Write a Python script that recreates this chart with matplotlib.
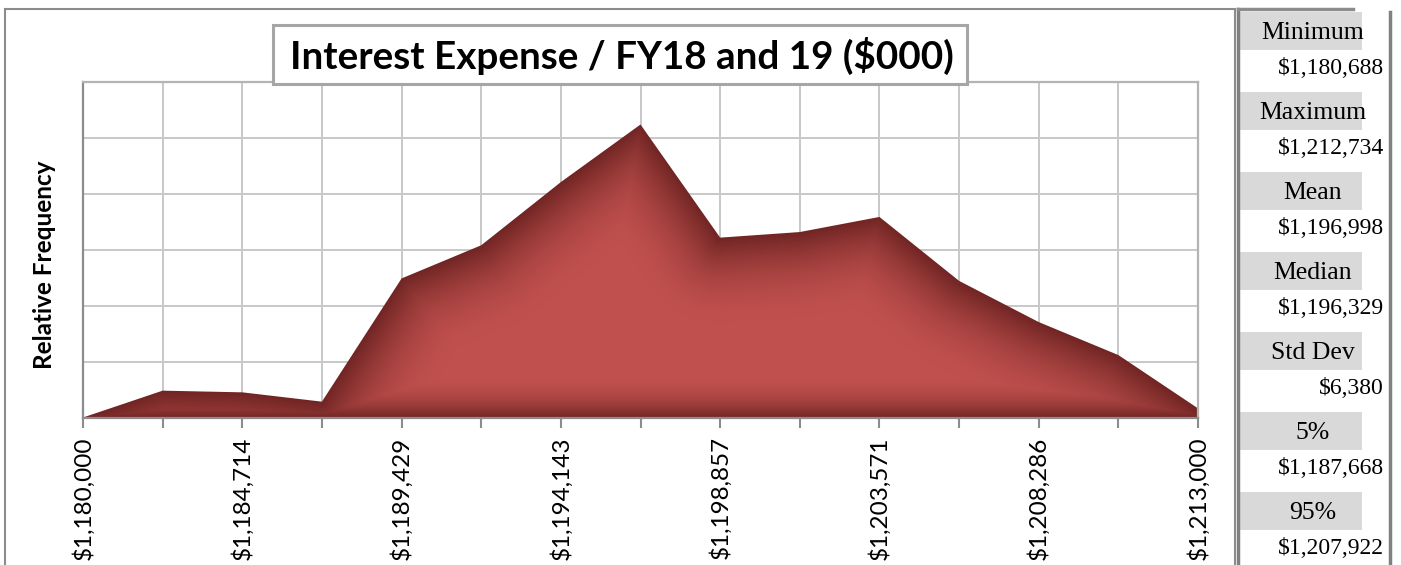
import numpy as np
import matplotlib
matplotlib.use("Agg")
import matplotlib.pyplot as plt
from matplotlib.patches import Rectangle

# ---------------- data ----------------
x_min, x_max = 1180000, 1213000
bin_points = np.linspace(x_min, x_max, 15)
rel_freq = [0.0, 0.0144, 0.0135, 0.0085, 0.0746, 0.0924, 0.1263, 0.1572,
            0.0965, 0.0995, 0.1076, 0.0733, 0.0512, 0.0335, 0.0049]
tick_labels = ["$1,180,000", "", "$1,184,714", "", "$1,189,429", "",
               "$1,194,143", "", "$1,198,857", "", "$1,203,571", "",
               "$1,208,286", "", "$1,213,000"]
stat_names = ["Minimum", "Maximum", "Mean", "Median", "Std Dev", "5%", "95%"]
stat_values = ["$1,180,688", "$1,212,734", "$1,196,998", "$1,196,329",
               "$6,380", "$1,187,668", "$1,207,922"]
title = "Interest Expense / FY18 and 19 ($000)"
y_label = "Relative Frequency"

# ---------------- figure ----------------
W, H = 1401, 565
fig = plt.figure(figsize=(W / 100, H / 100), dpi=100)
fig.patch.set_facecolor("white")


def fx(px):
    return px / W


def fy(py):
    return 1 - py / H


def frect(x0, y0, x1, y1, **kw):
    """Rectangle given in pixel coordinates (y down)."""
    r = Rectangle((fx(x0), fy(y1)), (x1 - x0) / W, (y1 - y0) / H,
                  transform=fig.transFigure, **kw)
    fig.add_artist(r)
    return r


# outer chart frame
frect(5, 9, 1235, 600, facecolor="white", edgecolor="#8c8c8c", lw=1.5, zorder=0)

# plot area
ax_l, ax_r, ax_t, ax_b = 83, 1198, 82, 417.5
ax = fig.add_axes([fx(ax_l), fy(ax_b), (ax_r - ax_l) / W, (ax_b - ax_t) / H])
ax.set_xlim(x_min, x_max)
y_top = 0.18
ax.set_ylim(0, y_top)
ax.set_xticks(bin_points)
ax.set_xticklabels(tick_labels, rotation=90, fontsize=17.5, family="Lato",
                   va="top", ha="center")
ax.set_yticks(np.arange(0, y_top + 1e-9, 0.03))
ax.set_yticklabels([])
ax.tick_params(axis="x", direction="inout", length=15, width=1.5,
               color="#8c8c8c", pad=6)
ax.tick_params(axis="y", length=0)
ax.grid(True, color="#c8c8c8", lw=1.4)
ax.set_axisbelow(True)
for name, sp in ax.spines.items():
    sp.set_color("#8c8c8c" if name in ("left", "bottom") else "#b4b4b4")
    sp.set_linewidth(1.6)

# area polygon (used as clip for the shaded fill)
area = ax.fill_between(bin_points, rel_freq, color="none", lw=0)
clip_path = area.get_paths()[0]

# shaded fill: darker towards the outline, brighter inside
nx, ny = int(ax_r - ax_l), int(ax_b - ax_t)
px_x = (np.arange(nx) + 0.5)
px_y = (np.arange(ny) + 0.5)
PX, PY = np.meshgrid(px_x, px_y)
sx = nx / (x_max - x_min)
sy = ny / y_top
vx = (bin_points - x_min) * sx
vy = np.asarray(rel_freq) * sy
d_top = np.full(PX.shape, np.inf)
for i in range(len(vx) - 1):
    ax0, ay0, bx0, by0 = vx[i], vy[i], vx[i + 1], vy[i + 1]
    dx, dy = bx0 - ax0, by0 - ay0
    t = ((PX - ax0) * dx + (PY - ay0) * dy) / (dx * dx + dy * dy)
    t = np.clip(t, 0, 1)
    d = np.hypot(PX - (ax0 + t * dx), PY - (ay0 + t * dy))
    d_top = np.minimum(d_top, d)
d_bot = PY
d_side = np.minimum(PX, nx - PX)
u = np.minimum.reduce([d_top / 95.0, d_bot / 45.0, d_side / 40.0,
                       np.ones_like(PX)])
tt = 1 - (1 - u) ** 2.2
dark = np.array([0.44, 0.145, 0.14])
bright = np.array([0.755, 0.315, 0.305])
img = dark[None, None, :] + (bright - dark)[None, None, :] * tt[..., None]
im = ax.imshow(img, extent=(x_min, x_max, 0, y_top), origin="lower",
               aspect="auto", interpolation="bilinear", zorder=1)
im.set_clip_path(clip_path, ax.transData)

# y label
fig.text(fx(45), fy(265), y_label, rotation=90, ha="center", va="center",
         fontsize=17.5, fontweight="bold", family="Lato")

# title box
frect(273, 25, 967, 84, facecolor="white", edgecolor="#a6a6a6", lw=2.2, zorder=5)
fig.text(fx(622), fy(56), title, ha="center", va="center", fontsize=27.8,
         fontweight="bold", family="Lato", zorder=6)

# statistics panel
p_l, p_r = 1238, 1390
frect(p_l, 9, p_r, 600, facecolor="white", edgecolor="none", zorder=2)
for k, (nm, val) in enumerate(zip(stat_names, stat_values)):
    y0 = 12 + 80 * k
    frect(p_l, y0, 1362, y0 + 38, facecolor="#d9d9d9", edgecolor="none", zorder=3)
    fig.text(fx(1313), fy(y0 + 21), nm, ha="center", va="center",
             fontsize=18.5, family="Liberation Serif", zorder=4)
    fig.text(fx(1384), fy(y0 + 57), val, ha="right", va="center",
             fontsize=17, family="Liberation Serif", zorder=4)
# panel borders
fig.add_artist(plt.Line2D([fx(p_l), fx(p_l)], [fy(9), 0], transform=fig.transFigure,
                          color="#808080", lw=2.5, zorder=5))
fig.add_artist(plt.Line2D([fx(p_r), fx(p_r)], [fy(12), 0], transform=fig.transFigure,
                          color="#808080", lw=2.5, zorder=5))
fig.add_artist(plt.Line2D([fx(p_l), fx(1353)], [fy(9), fy(9)], transform=fig.transFigure,
                          color="#8c8c8c", lw=2.5, zorder=5))

fig.savefig("out.png", dpi=100)
